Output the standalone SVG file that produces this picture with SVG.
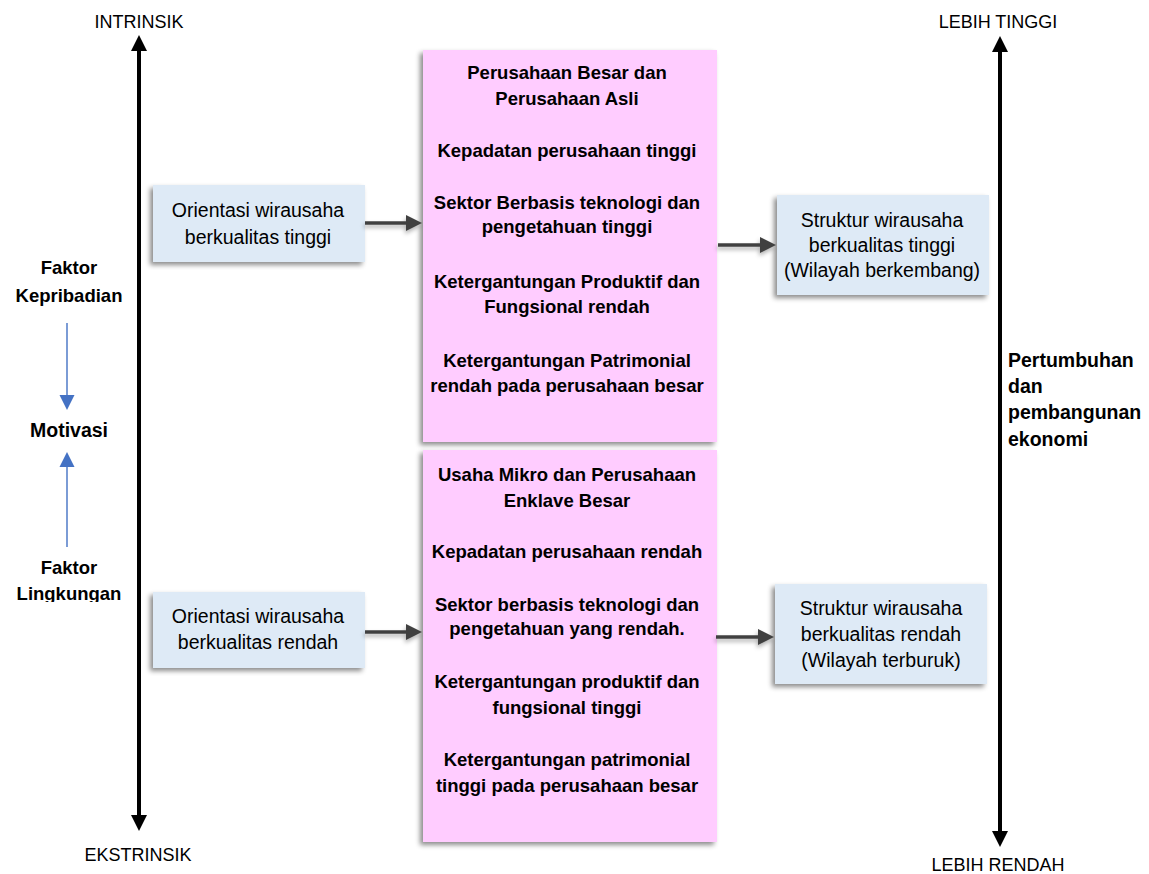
<svg xmlns="http://www.w3.org/2000/svg" width="1149" height="874" viewBox="0 0 1149 874">
  <defs>
    <filter id="shadow" x="-10%" y="-10%" width="120%" height="120%">
      <feDropShadow dx="-3" dy="3" stdDeviation="2.5" flood-color="#000" flood-opacity="0.45"/>
    </filter>
    <filter id="lineShadow" x="-10%" y="-100%" width="120%" height="400%">
      <feDropShadow dx="-1" dy="3" stdDeviation="2" flood-color="#000" flood-opacity="0.3"/>
    </filter>
    <clipPath id="clipLingkungan">
      <rect x="0" y="540" width="130" height="62"/>
    </clipPath>
  </defs>
  <style>
    text { font-family: "Liberation Sans", Arial, sans-serif; fill: #000; }
    .axis-label { font-size: 18px; text-anchor: middle; }
    .side { font-size: 18.5px; font-weight: bold; text-anchor: middle; }
    .side-left { font-size: 19.5px; font-weight: bold; text-anchor: start; }
    .blue-box { fill: #DEEAF6; }
    .pink-box { fill: #FFCCFF; }
    .box-text { font-size: 19.5px; text-anchor: middle; }
    .pink-text { font-size: 18.5px; font-weight: bold; text-anchor: middle; }
    .axis { stroke: #000; stroke-width: 4; }
    .conn { stroke: #404040; stroke-width: 3.5; }
    .conn-head { fill: #404040; }
    .blue-line { stroke: #4472C4; stroke-width: 1.4; }
    .blue-head { fill: #4472C4; }
  </style>

  <rect width="1149" height="874" fill="#fff"/>

  <!-- Left axis: intrinsic / extrinsic -->
  <g id="axis-left">
    <line class="axis" x1="139" y1="48" x2="139" y2="818"/>
    <polygon points="139,35 131,51 147,51" fill="#000"/>
    <polygon points="139,831 131,815 147,815" fill="#000"/>
    <text class="axis-label" x="139" y="28">INTRINSIK</text>
    <text class="axis-label" x="138" y="861">EKSTRINSIK</text>
  </g>

  <!-- Right axis: higher / lower -->
  <g id="axis-right">
    <line class="axis" x1="1000" y1="48" x2="1000" y2="834"/>
    <polygon points="1000,36 992,52 1008,52" fill="#000"/>
    <polygon points="1000,847 992,831 1008,831" fill="#000"/>
    <text class="axis-label" x="998" y="28">LEBIH TINGGI</text>
    <text class="axis-label" x="998" y="871">LEBIH RENDAH</text>
    <text class="side-left" x="1008" y="367">Pertumbuhan</text>
    <text class="side-left" x="1008" y="393">dan</text>
    <text class="side-left" x="1008" y="419">pembangunan</text>
    <text class="side-left" x="1008" y="446">ekonomi</text>
  </g>

  <!-- Motivation factors -->
  <g id="faktor-kepribadian">
    <text class="side" x="69" y="274">Faktor</text>
    <text class="side" x="69" y="302">Kepribadian</text>
  </g>
  <g id="motivasi">
    <text class="side" x="69" y="437" style="font-size:19.5px">Motivasi</text>
  </g>
  <g id="faktor-lingkungan">
    <text class="side" x="69" y="574">Faktor</text>
    <text class="side" x="69" y="600" clip-path="url(#clipLingkungan)">Lingkungan</text>
  </g>

  <!-- High quality chain -->
  <g id="orientasi-tinggi">
    <rect class="blue-box" x="153" y="185" width="212" height="77" filter="url(#shadow)"/>
    <text class="box-text" x="258" y="217">Orientasi wirausaha</text>
    <text class="box-text" x="258" y="244">berkualitas tinggi</text>
  </g>
  <g id="ciri-tinggi">
    <rect class="pink-box" x="423" y="50" width="294" height="392" filter="url(#shadow)"/>
    <text class="pink-text" x="567" y="79">Perusahaan Besar dan</text>
    <text class="pink-text" x="567" y="105">Perusahaan Asli</text>
    <text class="pink-text" x="567" y="157">Kepadatan perusahaan tinggi</text>
    <text class="pink-text" x="567" y="209">Sektor Berbasis teknologi dan</text>
    <text class="pink-text" x="567" y="233">pengetahuan tinggi</text>
    <text class="pink-text" x="567" y="288">Ketergantungan Produktif dan</text>
    <text class="pink-text" x="567" y="313">Fungsional rendah</text>
    <text class="pink-text" x="567" y="367">Ketergantungan Patrimonial</text>
    <text class="pink-text" x="567" y="392">rendah pada perusahaan besar</text>
  </g>
  <g id="struktur-tinggi">
    <rect class="blue-box" x="777" y="195" width="212" height="100" filter="url(#shadow)"/>
    <text class="box-text" x="882" y="227">Struktur wirausaha</text>
    <text class="box-text" x="882" y="252">berkualitas tinggi</text>
    <text class="box-text" x="882" y="277">(Wilayah berkembang)</text>
  </g>

  <!-- Low quality chain -->
  <g id="orientasi-rendah">
    <rect class="blue-box" x="153" y="592" width="212" height="76" filter="url(#shadow)"/>
    <text class="box-text" x="258" y="623">Orientasi wirausaha</text>
    <text class="box-text" x="258" y="649">berkualitas rendah</text>
  </g>
  <g id="ciri-rendah">
    <rect class="pink-box" x="423" y="450" width="294" height="392" filter="url(#shadow)"/>
    <text class="pink-text" x="567" y="481">Usaha Mikro dan Perusahaan</text>
    <text class="pink-text" x="567" y="507">Enklave Besar</text>
    <text class="pink-text" x="567" y="558">Kepadatan perusahaan rendah</text>
    <text class="pink-text" x="567" y="611">Sektor berbasis teknologi dan</text>
    <text class="pink-text" x="567" y="635">pengetahuan yang rendah.</text>
    <text class="pink-text" x="567" y="688">Ketergantungan produktif dan</text>
    <text class="pink-text" x="567" y="714">fungsional tinggi</text>
    <text class="pink-text" x="567" y="766">Ketergantungan patrimonial</text>
    <text class="pink-text" x="567" y="792">tinggi pada perusahaan besar</text>
  </g>
  <g id="struktur-rendah">
    <rect class="blue-box" x="775" y="584" width="212" height="100" filter="url(#shadow)"/>
    <text class="box-text" x="881" y="615">Struktur wirausaha</text>
    <text class="box-text" x="881" y="641">berkualitas rendah</text>
    <text class="box-text" x="881" y="667">(Wilayah terburuk)</text>
  </g>

  <!-- Connectors -->
  <g id="connectors">
    <g filter="url(#lineShadow)">
      <line class="conn" x1="365" y1="223" x2="407" y2="223"/>
      <polygon class="conn-head" points="422,223 406,215 406,231"/>
      <line class="conn" x1="365" y1="632" x2="407" y2="632"/>
      <polygon class="conn-head" points="422,632 406,624 406,640"/>
      <line class="conn" x1="718" y1="245" x2="762" y2="245"/>
      <polygon class="conn-head" points="776,245 760,237 760,253"/>
      <line class="conn" x1="716" y1="637" x2="760" y2="637"/>
      <polygon class="conn-head" points="774,637 758,629 758,645"/>
    </g>
    <line class="blue-line" x1="67" y1="323" x2="67" y2="397"/>
    <polygon class="blue-head" points="67,410 59.5,395 74.5,395"/>
    <line class="blue-line" x1="67" y1="547" x2="67" y2="465"/>
    <polygon class="blue-head" points="67,452 59.5,467 74.5,467"/>
  </g>
</svg>
